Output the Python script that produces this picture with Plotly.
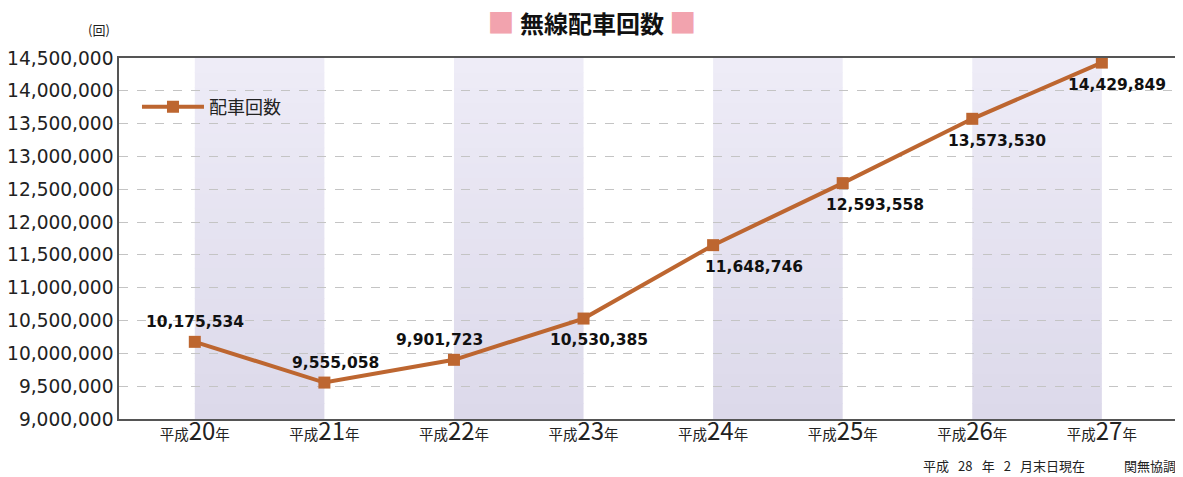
import plotly.graph_objects as go

years = ["20", "21", "22", "23", "24", "25", "26", "27"]
values = [10175534, 9555058, 9901723, 10530385, 11648746, 12593558, 13573530, 14429849]
label_dx = [0, 11, -14, 15, 41, 32, 25, 15]
label_dy = [20, 20, 20, -21, -22, -22, -22, -22]

y_ticks = list(range(9000000, 14500001, 500000))
JP = "Noto Sans CJK JP"
NUM = "DejaVu Sans"
LINE = "#bd6630"

x_idx = list(range(len(years)))
tick_text = [f"平成<span style='font-size:24px'>{y}</span>年" for y in years]

fig = go.Figure()
fig.add_trace(go.Scatter(
    x=x_idx, y=values, mode="lines+markers", name="配車回数",
    line=dict(color=LINE, width=4),
    marker=dict(symbol="square", size=12, color=LINE),
))

# shaded bands (vertical gradient, lighter at top)
top_c = (238, 236, 247)
bot_c = (220, 217, 234)
n_slices = 24
shapes = []
for i in range(0, len(years) - 1, 2):
    for k in range(n_slices):
        t = (k + 0.5) / n_slices
        c = tuple(round(bot_c[j] + (top_c[j] - bot_c[j]) * t) for j in range(3))
        shapes.append(dict(type="rect", xref="x", yref="paper", x0=i, x1=i + 1,
                           y0=k / n_slices, y1=(k + 1) / n_slices + 0.002,
                           fillcolor=f"rgb{c}", line=dict(width=0), layer="below"))

annotations = []
for i, v in enumerate(values):
    annotations.append(dict(x=i, y=v, xref="x", yref="y", text=f"{v:,}", showarrow=False,
                            xshift=label_dx[i], yshift=label_dy[i],
                            font=dict(family=NUM, size=15.5, color="#111", weight="bold")))
annotations.append(dict(xref="paper", yref="paper", x=-0.0066, y=1.078, xanchor="right", yanchor="middle",
                        text="(回)", showarrow=False, font=dict(family=JP, size=13, color="#222")))
sp = "\u2002\u2009"
annotations.append(dict(xref="paper", yref="paper", x=1.0009, y=-0.13, xanchor="right", yanchor="middle",
                        text=f"平成{sp}28{sp}年{sp}2{sp}月末日現在\u3000\u3000\u3000関無協調", showarrow=False,
                        font=dict(family=JP, size=13, color="#222")))

fig.update_layout(
    width=1175, height=469,
    margin=dict(l=111, r=6, t=50, b=58),
    paper_bgcolor="white", plot_bgcolor="white",
    title=dict(text="<span style='color:#f2a3ae;font-size:27px'>■</span> <b>無線配車回数</b> "
                    "<span style='color:#f2a3ae;font-size:27px'>■</span>",
               x=0.497, xanchor="center", xref="container", y=0.965, yref="container", yanchor="middle",
               font=dict(family=JP, size=24, color="#111")),
    showlegend=True,
    legend=dict(x=0.017, y=0.864, xanchor="left", yanchor="middle", bgcolor="rgba(0,0,0,0)",
                itemwidth=62, font=dict(family=JP, size=18, color="#222")),
    shapes=shapes, annotations=annotations,
    font=dict(family=JP),
)
fig.update_xaxes(range=[-0.585, 7.58], tickmode="array", tickvals=x_idx, ticktext=tick_text,
                 tickfont=dict(family=JP, size=14.5, color="#222"), showgrid=False, zeroline=False,
                 showline=True, linecolor="#555", linewidth=1.5, mirror=True, ticks="",
                 ticklabelstandoff=2, automargin=False)
fig.update_yaxes(range=[9000000, 14500000], tickmode="array", tickvals=y_ticks,
                 ticktext=[f"{t:,}" for t in y_ticks],
                 tickfont=dict(family=NUM, size=18.6, color="#222"),
                 showgrid=True, gridcolor="#c4c4c4", griddash="dash", gridwidth=1, zeroline=False,
                 showline=True, linecolor="#555", linewidth=1.5, mirror=True, ticks="",
                 automargin=False)

fig.write_html("out.html")
